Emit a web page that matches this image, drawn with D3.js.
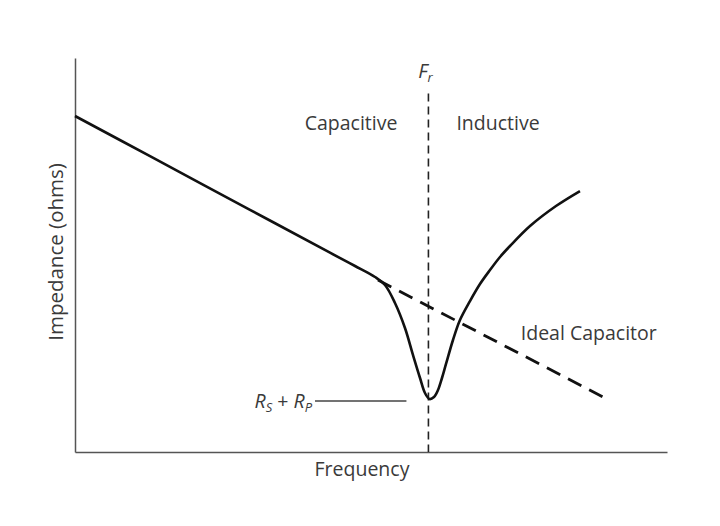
<!DOCTYPE html>
<html>
<head>
<meta charset="utf-8">
<script src="https://cdn.jsdelivr.net/npm/d3@7"></script>
<style>
  html, body { margin: 0; padding: 0; background: #fff; }
  svg { display: block; }
</style>
</head>
<body>
<svg id="chart" width="720" height="526"></svg>
<script>
// Frequency / impedance values (arbitrary units 0-100)
const realFreq = [0, 12.67, 29.56, 43.07, 47.30, 50.68, 52.36, 54.05, 55.74, 57.09, 58.28, 59.12, 59.88, 60.64, 61.32, 61.99, 62.67, 63.85, 65.03, 66.72, 68.41, 70.10, 71.79, 73.48, 76.86, 81.25, 85.30];
const realImpedance = [85.28, 75.08, 61.47, 50.58, 47.21, 44.42, 42.39, 37.82, 31.47, 24.62, 18.78, 14.97, 13.45, 13.96, 15.74, 18.78, 22.34, 28.43, 33.50, 38.32, 42.64, 46.19, 49.49, 52.28, 57.36, 62.44, 66.24];

const idealFreq = [51.18, 89.19];
const idealImpedance = [43.65, 13.96];

const resonantFreq = 59.7;
const resonantTop = 91;
const minImpedance = 13.45;

const xLabel = 'Frequency';
const yLabel = 'Impedance (ohms)';
const regionLabels = ['Capacitive', 'Inductive'];
const idealLabel = 'Ideal Capacitor';

const fontFamily = "'Open Sans', 'Noto Sans', sans-serif";
const fontSize = 19.5;
const textColor = '#3a3a3a';

function initChart() {
    const svg = d3.select('#chart');
    const margin = { left: 75, right: 53, top: 58, bottom: 74 };
    const width = 720, height = 526;

    const x = d3.scaleLinear().domain([0, 100]).range([margin.left, width - margin.right]);
    const y = d3.scaleLinear().domain([0, 100]).range([height - margin.bottom, margin.top]);

    // axes (just the two lines, no ticks)
    const xAxis = d3.axisBottom(x).tickValues([]).tickSizeOuter(0);
    const yAxis = d3.axisLeft(y).tickValues([]).tickSizeOuter(0);

    svg.append('g')
        .attr('transform', `translate(0,${y(0)})`)
        .call(xAxis)
        .call(g => g.select('.domain').attr('stroke', '#555').attr('stroke-width', 1.5));

    svg.append('g')
        .attr('transform', `translate(${x(0)},0)`)
        .call(yAxis)
        .call(g => g.select('.domain').attr('stroke', '#555').attr('stroke-width', 1.5));

    // resonant frequency marker
    svg.append('line')
        .attr('x1', x(resonantFreq)).attr('x2', x(resonantFreq))
        .attr('y1', y(resonantTop)).attr('y2', y(0))
        .attr('stroke', '#222')
        .attr('stroke-width', 1.6)
        .attr('stroke-dasharray', '8,5');

    // ideal capacitor
    const idealData = idealFreq.map((f, i) => [f, idealImpedance[i]]);
    svg.append('path')
        .datum(idealData)
        .attr('fill', 'none')
        .attr('stroke', '#111')
        .attr('stroke-width', 2.8)
        .attr('stroke-dasharray', '15,8.8')
        .attr('d', d3.line().x(d => x(d[0])).y(d => y(d[1])));

    // real capacitor
    const realData = realFreq.map((f, i) => [f, realImpedance[i]]);
    svg.append('path')
        .datum(realData)
        .attr('fill', 'none')
        .attr('stroke', '#111')
        .attr('stroke-width', 2.6)
        .attr('d', d3.line().x(d => x(d[0])).y(d => y(d[1])).curve(d3.curveCatmullRom.alpha(0.5)));

    const text = (px, py, anchor) => svg.append('text')
        .attr('x', px).attr('y', py)
        .attr('text-anchor', anchor)
        .style('font-family', fontFamily)
        .style('font-size', fontSize + 'px')
        .attr('fill', textColor);

    text(362, 476, 'middle').text(xLabel);

    text(0, 0, 'middle')
        .attr('transform', `translate(63,252) rotate(-90)`)
        .style('font-size', '20.5px')
        .text(yLabel);

    text(x(resonantFreq) - 31, 130, 'end').text(regionLabels[0]);
    text(x(resonantFreq) + 28, 130, 'start').text(regionLabels[1]);

    text(x(75.3), 340, 'start').text(idealLabel);

    // F_r
    const fr = text(x(resonantFreq) - 3, 78, 'middle').style('font-style', 'italic');
    fr.append('tspan').text('F');
    fr.append('tspan').attr('dy', 4).style('font-size', '13px').text('r');

    // R_S + R_P
    const rs = text(312, 408, 'end').style('font-style', 'italic');
    rs.append('tspan').text('R');
    rs.append('tspan').attr('dy', 4).style('font-size', '13px').text('S');
    rs.append('tspan').attr('dy', -4).style('font-style', 'normal').text(' + ');
    rs.append('tspan').text('R');
    rs.append('tspan').attr('dy', 4).style('font-size', '13px').text('P');

    svg.append('line')
        .attr('x1', 315).attr('x2', x(resonantFreq) - 22)
        .attr('y1', y(minImpedance) + 2).attr('y2', y(minImpedance) + 2)
        .attr('stroke', '#444')
        .attr('stroke-width', 1.5);
}

initChart();
</script>
</body>
</html>
